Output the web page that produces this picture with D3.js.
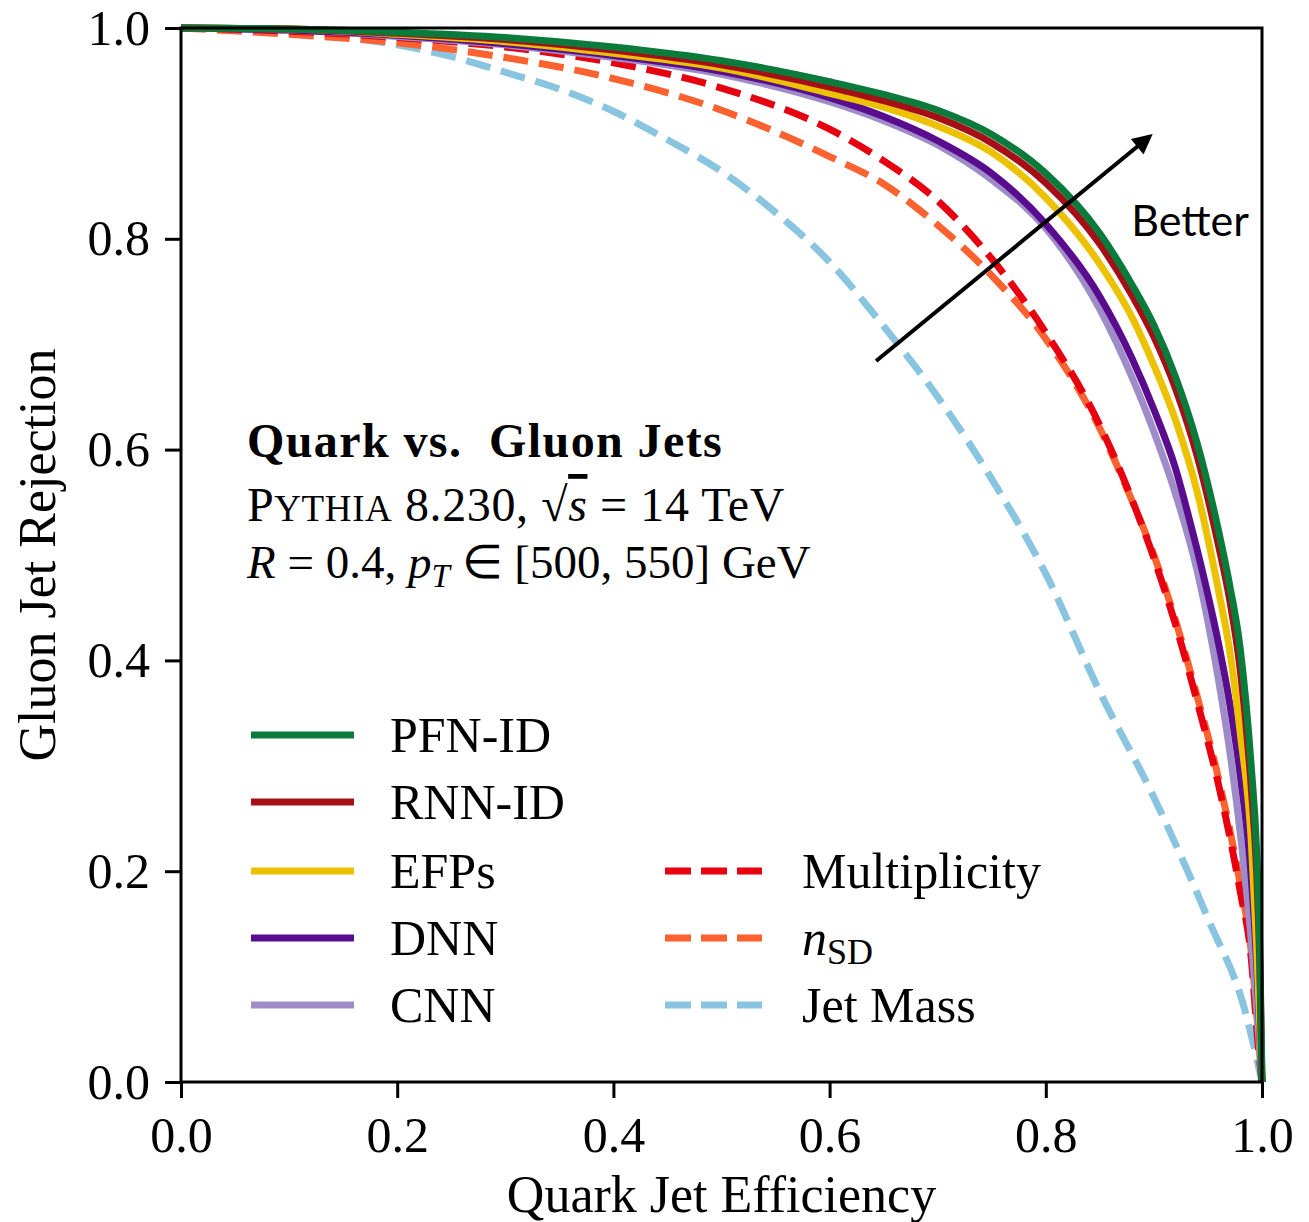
<!DOCTYPE html>
<html>
<head>
<meta charset="utf-8">
<script src="https://cdn.jsdelivr.net/npm/d3@7"></script>
<style>
  body { margin: 0; background: #fff; }
  text { font-family: "Liberation Serif", "Times New Roman", serif; fill: #000; }
</style>
</head>
<body>
<div id="container"></div>
<script>
// ROC curves: [quark eff, gluon rejection]
let pfnId = [[0,1],[0.1,0.999],[0.2,0.996],[0.3,0.991],[0.4,0.982],[0.5,0.969],[0.6,0.949],[0.65,0.937],[0.7,0.922],[0.75,0.899],[0.8,0.862],[0.85,0.805],[0.88,0.756],[0.9,0.718],[0.92,0.669],[0.94,0.606],[0.96,0.522],[0.97,0.472],[0.98,0.41],[0.99,0.3],[0.995,0.22],[0.998,0.125],[1,0]];
let rnnId = [[0,1],[0.1,0.999],[0.2,0.995],[0.3,0.989],[0.4,0.979],[0.5,0.965],[0.6,0.944],[0.65,0.931],[0.7,0.915],[0.75,0.891],[0.8,0.853],[0.85,0.795],[0.88,0.746],[0.9,0.707],[0.92,0.658],[0.94,0.594],[0.96,0.508],[0.97,0.458],[0.98,0.39],[0.99,0.28],[0.995,0.2],[0.998,0.11],[1,0]];
let efps = [[0,1],[0.1,0.999],[0.2,0.994],[0.3,0.987],[0.4,0.976],[0.5,0.962],[0.6,0.938],[0.65,0.925],[0.7,0.907],[0.75,0.882],[0.8,0.839],[0.85,0.776],[0.88,0.725],[0.9,0.68],[0.92,0.628],[0.94,0.56],[0.96,0.465],[0.97,0.41],[0.98,0.33],[0.99,0.23],[0.995,0.13],[1,0]];
let dnn = [[0,1],[0.1,0.998],[0.2,0.993],[0.3,0.985],[0.4,0.974],[0.5,0.959],[0.6,0.934],[0.65,0.916],[0.7,0.893],[0.75,0.862],[0.8,0.814],[0.85,0.745],[0.88,0.686],[0.9,0.638],[0.92,0.582],[0.93,0.545],[0.94,0.505],[0.95,0.462],[0.96,0.415],[0.97,0.36],[0.98,0.29],[0.99,0.195],[0.995,0.115],[1,0]];
let cnn = [[0,1],[0.1,0.998],[0.2,0.992],[0.3,0.984],[0.4,0.972],[0.5,0.956],[0.6,0.93],[0.65,0.912],[0.7,0.889],[0.75,0.856],[0.8,0.81],[0.85,0.733],[0.88,0.668],[0.9,0.617],[0.92,0.558],[0.94,0.485],[0.96,0.38],[0.97,0.315],[0.98,0.235],[0.99,0.135],[1,0]];
let multiplicity = [[0,1],[0.1,0.997],[0.2,0.991],[0.3,0.982],[0.4,0.967],[0.5,0.943],[0.6,0.904],[0.65,0.874],[0.7,0.836],[0.75,0.781],[0.8,0.711],[0.85,0.623],[0.88,0.552],[0.9,0.497],[0.92,0.434],[0.94,0.361],[0.96,0.281],[0.98,0.18],[0.99,0.118],[0.996,0.04],[1,0]];
let nSD = [[0,1],[0.1,0.994],[0.2,0.986],[0.3,0.972],[0.4,0.952],[0.5,0.922],[0.6,0.878],[0.65,0.852],[0.7,0.813],[0.75,0.765],[0.8,0.705],[0.85,0.62],[0.88,0.551],[0.9,0.5],[0.92,0.438],[0.94,0.366],[0.96,0.287],[0.98,0.187],[0.99,0.124],[0.997,0.04],[1,0]];
let jetMass = [[0,1],[0.1,0.996],[0.2,0.984],[0.25,0.973],[0.3,0.958],[0.35,0.942],[0.4,0.921],[0.45,0.894],[0.5,0.864],[0.55,0.825],[0.6,0.778],[0.65,0.717],[0.7,0.65],[0.75,0.572],[0.8,0.482],[0.85,0.37],[0.9,0.27],[0.95,0.155],[0.985,0.065],[1,0]];

let names = ["PFN-ID", "RNN-ID", "EFPs", "DNN", "CNN", "Multiplicity", "nSD", "Jet Mass"];
let colors = ["#0b7b3b", "#a50f15", "#ebc100", "#5a0c8f", "#9e8cc8", "#e60010", "#fc6230", "#89c4e1"];
let dashed = [false, false, false, false, false, true, true, true];
let curves = [pfnId, rnnId, efps, dnn, cnn, multiplicity, nSD, jetMass];
let xTicks = [0, 0.2, 0.4, 0.6, 0.8, 1.0];
let yTicks = [0, 0.2, 0.4, 0.6, 0.8, 1.0];

let w = 1309;
let h = 1222;
let mLeft = 181, mRight = 1262, mTop = 28, mBottom = 1082;

let viz = d3.select("#container")
  .append("svg")
    .attr("width", w)
    .attr("height", h)
;

let xScale = d3.scaleLinear().domain([0, 1]).range([mLeft, mRight]);
let yScale = d3.scaleLinear().domain([0, 1]).range([mBottom, mTop]);

let series = names.map(function(n, i){
  return {name: n, color: colors[i], dashed: dashed[i], values: curves[i]};
});

let lineMaker = d3.line()
  .x(function(d){ return xScale(d[0]); })
  .y(function(d){ return yScale(d[1]); })
  .curve(d3.curveMonotoneX)
;

// draw in reverse so PFN-ID ends up on top
viz.append("g").selectAll("path").data(series.slice().reverse()).enter()
  .append("path")
    .attr("d", function(d){ return lineMaker(d.values); })
    .attr("fill", "none")
    .attr("stroke", function(d){ return d.color; })
    .attr("stroke-width", 7)
    .attr("stroke-dasharray", function(d){ return d.dashed ? "25,11" : null; })
;

// axes
let xAxis = d3.axisBottom(xScale).tickValues(xTicks).tickFormat(d3.format(".1f")).tickSize(16).tickSizeOuter(0).tickPadding(18);
let yAxis = d3.axisLeft(yScale).tickValues(yTicks).tickFormat(d3.format(".1f")).tickSize(16).tickSizeOuter(0).tickPadding(15);

let gx = viz.append("g").attr("transform", "translate(0," + mBottom + ")").call(xAxis);
let gy = viz.append("g").attr("transform", "translate(" + mLeft + ",0)").call(yAxis);
[gx, gy].forEach(function(g){
  g.select(".domain").remove();
  g.selectAll(".tick line").attr("stroke", "#000").attr("stroke-width", 3);
  g.selectAll(".tick text").style("font-size", "50px").attr("fill", "#000");
});

viz.append("rect")
  .attr("x", mLeft).attr("y", mTop)
  .attr("width", mRight - mLeft).attr("height", mBottom - mTop)
  .attr("fill", "none").attr("stroke", "#000").attr("stroke-width", 3)
;

viz.append("text")
  .attr("x", (mLeft + mRight) / 2).attr("y", 1212)
  .attr("text-anchor", "middle").style("font-size", "52px")
  .text("Quark Jet Efficiency");

viz.append("text")
  .attr("transform", "translate(55," + ((mTop + mBottom) / 2) + ") rotate(-90)")
  .attr("text-anchor", "middle").style("font-size", "52px")
  .text("Gluon Jet Rejection");

// info block
let info = viz.append("g").attr("transform", "translate(247,0)");
info.append("text").attr("y", 457)
  .style("font-size", "48px").style("font-weight", "bold").style("letter-spacing", "1.4px")
  .attr("xml:space", "preserve")
  .text("Quark vs.  Gluon Jets");

let l2 = info.append("text").attr("y", 521).style("font-size", "48px").style("letter-spacing", "0.6px");
l2.append("tspan").text("P");
l2.append("tspan").style("font-size", "37px").text("YTHIA");
l2.append("tspan").text(" 8.230, √");
l2.append("tspan").style("font-style", "italic").style("text-decoration", "overline").text("s");
l2.append("tspan").text(" = 14 TeV");

let l3 = info.append("text").attr("y", 578).style("font-size", "47px");
l3.append("tspan").style("font-style", "italic").text("R");
l3.append("tspan").text(" = 0.4, ");
l3.append("tspan").style("font-style", "italic").text("p");
l3.append("tspan").style("font-style", "italic").style("font-size", "33px").attr("dy", 9).text("T");
l3.append("tspan").attr("dy", -9).text(" ∈ [500, 550] GeV");

// legend
let legendPos = [[251, 735], [251, 802], [251, 871], [251, 938], [251, 1005], [665, 871], [665, 938], [665, 1005]];
let legend = viz.append("g").selectAll("g").data(series).enter()
  .append("g")
    .attr("transform", function(d, i){ return "translate(" + legendPos[i][0] + "," + legendPos[i][1] + ")"; })
;
legend.append("line")
  .attr("x1", 0).attr("x2", function(d){ return d.dashed ? 97 : 103; })
  .attr("y1", 0).attr("y2", 0)
  .attr("stroke", function(d){ return d.color; })
  .attr("stroke-width", 7)
  .attr("stroke-dasharray", function(d){ return d.dashed ? "26,10" : null; })
;
legend.append("text")
  .attr("x", function(d){ return d.dashed ? 137 : 139; })
  .attr("y", 17)
  .style("font-size", "50px")
  .each(function(d){
    let t = d3.select(this);
    if (d.name == "nSD") {
      t.append("tspan").style("font-style", "italic").text("n");
      t.append("tspan").style("font-size", "36px").attr("dy", 9).text("SD");
    } else {
      t.text(d.name);
    }
  })
;

// "Better" arrow
let arrowFrom = [0.643, 0.684];
let arrowTo = [0.896, 0.897];
viz.append("defs").append("marker")
  .attr("id", "head").attr("viewBox", "0 0 10 10")
  .attr("refX", 8).attr("refY", 5)
  .attr("markerWidth", 6).attr("markerHeight", 5)
  .attr("markerUnits", "strokeWidth")
  .attr("orient", "auto")
  .append("path").attr("d", "M0,0 L10,5 L0,10 z").attr("fill", "#000");

viz.append("line")
  .attr("x1", xScale(arrowFrom[0])).attr("y1", yScale(arrowFrom[1]))
  .attr("x2", xScale(arrowTo[0])).attr("y2", yScale(arrowTo[1]))
  .attr("stroke", "#000").attr("stroke-width", 4)
  .attr("marker-end", "url(#head)");

viz.append("text")
  .attr("x", xScale(0.879)).attr("y", yScale(0.803))
  .style("font-family", "Lato, 'Open Sans', sans-serif").style("font-size", "43px")
  .text("Better");
</script>
</body>
</html>
